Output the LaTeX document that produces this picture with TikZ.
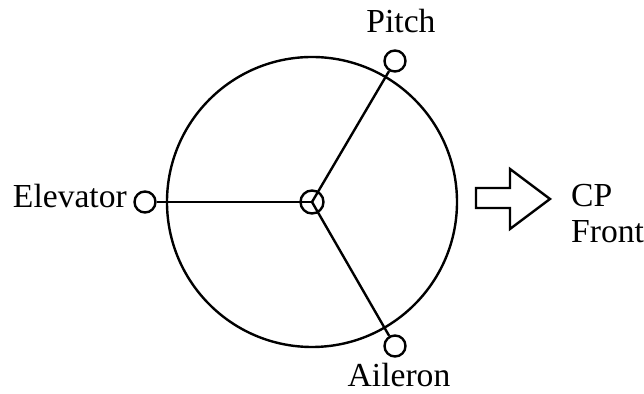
\documentclass[tikz,border=0pt]{standalone}
\usepackage{fontspec}
\setmainfont{Liberation Serif}
\usetikzlibrary{positioning}
\begin{document}
\begin{tikzpicture}[x=0.5pt,y=-0.5pt,line width=1.2pt,font=\fontsize{16.8}{20}\selectfont,
  port/.style={circle,draw,minimum size=10.5pt,inner sep=0pt},
  lbl/.style={inner sep=0pt}]
\useasboundingbox (0,0) rectangle (644,394);
\draw (312,202) circle[radius=72.5pt];
\node[port,minimum size=11.5pt] (hub) at (312,202) {};
\node[port] (elev) at (145,202) {};
\node[port] (pitch) at (395,61) {};
\node[port] (ail) at (395,346) {};
\draw (hub.center) -- (elev);
\draw (hub.center) -- (pitch);
\draw (hub.center) -- (ail);
\node[lbl,anchor=base east] (elevtxt) at (128,208) {Elevator};
\node[lbl,anchor=base] (pitchtxt) at (401,33) {Pitch};
\node[lbl,anchor=base] (ailtxt) at (399,387) {Aileron};
% front direction arrow
\draw[line join=miter] (476,188) -- (510,188) -- (510,169) -- (550,199) -- (510,229) -- (510,208) -- (476,208) -- cycle;
\node[lbl,anchor=base west] (cp) at (570,207) {CP};
\node[lbl,anchor=base west] (front) at (570,243) {Front};
\end{tikzpicture}
\end{document}
